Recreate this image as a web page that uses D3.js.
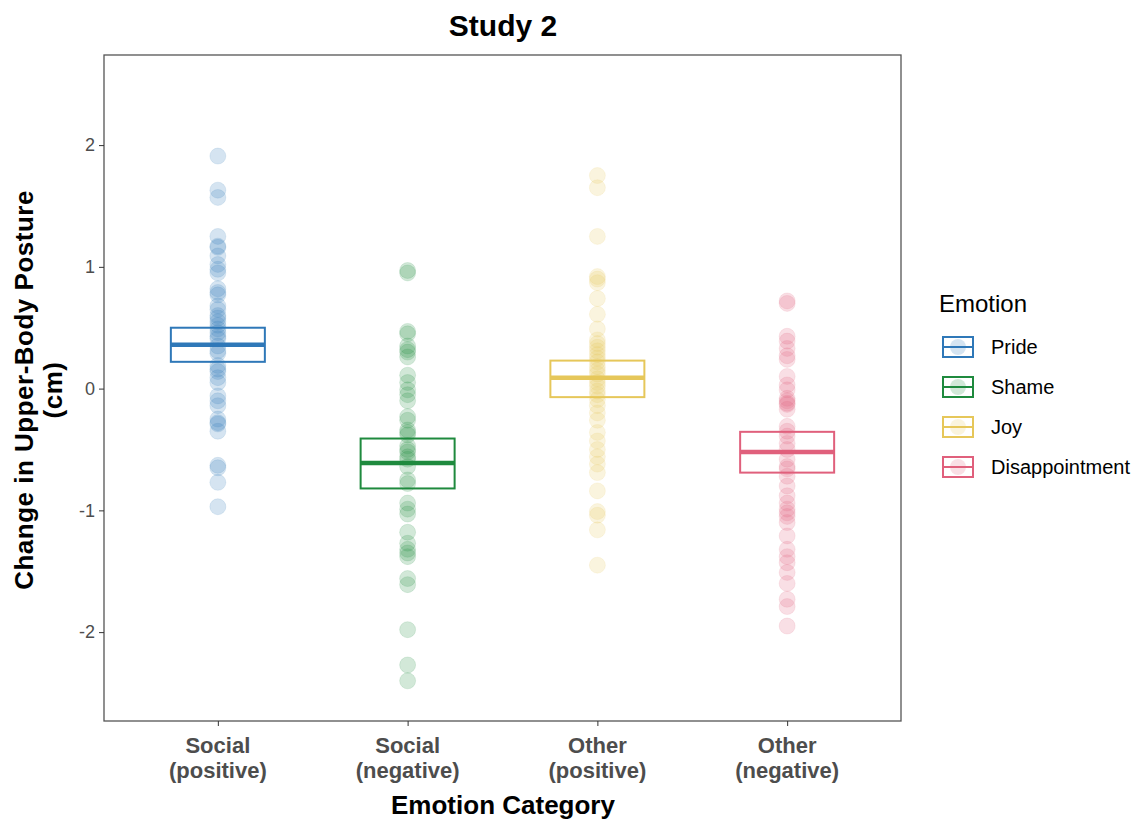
<!DOCTYPE html>
<html lang="en">
<head>
    <meta charset="UTF-8">
    <title>Study 2</title>
    <script src="https://d3js.org/d3.v7.min.js"></script>
    <style>
        body { margin: 0; background: white; font-family: "Liberation Sans", Arial, sans-serif; }
        svg { display: block; }
    </style>
</head>
<body>
<svg id="chart" width="1147" height="821"></svg>
<script>
    // categories and legend
    const categories = [["Social", "(positive)"], ["Social", "(negative)"], ["Other", "(positive)"], ["Other", "(negative)"]];
    const emotions = ["Pride", "Shame", "Joy", "Disappointment"];
    const colors = ["#2f78b8", "#1f8a3e", "#e6c75a", "#e0607c"];
    const yTicks = [-2, -1, 0, 1, 2];

    const pride = [1.91, 1.63, 1.57, 1.25, 1.17, 1.16, 1.09, 1.02, 0.98, 0.95, 0.82, 0.79, 0.77, 0.68, 0.65,
        0.6, 0.58, 0.55, 0.52, 0.49, 0.46, 0.43, 0.41, 0.35, 0.31, 0.29, 0.19, 0.16, 0.14, 0.09, 0.05,
        -0.06, -0.1, -0.14, -0.25, -0.28, -0.29, -0.35, -0.63, -0.65, -0.77, -0.97];
    const shame = [0.97, 0.95, 0.47, 0.45, 0.35, 0.32, 0.3, 0.26, 0.11, 0.05, -0.01, -0.05, -0.1, -0.23, -0.26,
        -0.34, -0.36, -0.38, -0.47, -0.5, -0.52, -0.56, -0.58, -0.64, -0.75, -0.78, -0.94, -0.99, -1.03,
        -1.18, -1.27, -1.32, -1.35, -1.38, -1.56, -1.61, -1.98, -2.27, -2.4];
    const joy = [1.75, 1.65, 1.25, 0.92, 0.9, 0.87, 0.74, 0.61, 0.49, 0.4, 0.37, 0.34, 0.31, 0.28, 0.25, 0.22,
        0.18, 0.15, 0.12, 0.08, 0.05, 0.02, -0.02, -0.05, -0.09, -0.14, -0.2, -0.26, -0.36, -0.43, -0.5,
        -0.56, -0.62, -0.69, -0.84, -1.01, -1.04, -1.16, -1.45];
    const disappointment = [0.72, 0.7, 0.43, 0.39, 0.33, 0.27, 0.24, 0.1, 0.03, -0.01, -0.08, -0.1, -0.12, -0.13,
        -0.17, -0.31, -0.35, -0.39, -0.45, -0.5, -0.58, -0.64, -0.66, -0.72, -0.8, -0.88, -0.94, -0.99,
        -1.02, -1.05, -1.1, -1.21, -1.32, -1.38, -1.43, -1.51, -1.6, -1.73, -1.79, -1.95];
    const points = [pride, shame, joy, disappointment];

    // crossbar summaries: lower, middle, upper
    const boxLow = [0.22, -0.82, -0.07, -0.69];
    const boxMid = [0.36, -0.61, 0.09, -0.52];
    const boxHigh = [0.5, -0.41, 0.23, -0.355];

    const svg = d3.select("#chart");
    const panel = { left: 104, right: 901, top: 55, bottom: 721 };

    // ggplot-style discrete axis: 0.6 padding at each end
    const x = d3.scaleLinear().domain([0.4, 4.6]).range([panel.left, panel.right]);
    const y = d3.scaleLinear().domain([-2.73, 2.74]).range([panel.bottom, panel.top]);
    const halfBox = 47;

    // points
    points.forEach((vals, i) => {
        svg.append("g").selectAll("circle")
            .data(vals)
            .enter().append("circle")
            .attr("cx", x(i + 1))
            .attr("cy", d => y(d))
            .attr("r", 8)
            .attr("fill", colors[i])
            .attr("fill-opacity", 0.2)
            .attr("stroke", colors[i])
            .attr("stroke-opacity", 0.12);
    });

    // crossbars
    emotions.forEach((e, i) => {
        const cx = x(i + 1);
        svg.append("rect")
            .attr("x", cx - halfBox)
            .attr("y", y(boxHigh[i]))
            .attr("width", halfBox * 2)
            .attr("height", y(boxLow[i]) - y(boxHigh[i]))
            .attr("fill", "none")
            .attr("stroke", colors[i])
            .attr("stroke-width", 2);
        svg.append("line")
            .attr("x1", cx - halfBox).attr("x2", cx + halfBox)
            .attr("y1", y(boxMid[i])).attr("y2", y(boxMid[i]))
            .attr("stroke", colors[i])
            .attr("stroke-width", 4.5);
    });

    // panel border
    svg.append("rect")
        .attr("x", panel.left).attr("y", panel.top)
        .attr("width", panel.right - panel.left)
        .attr("height", panel.bottom - panel.top)
        .attr("fill", "none")
        .attr("stroke", "#555")
        .attr("stroke-width", 1.3);

    // y axis (plain hyphen minus, like the original)
    const yAxis = svg.append("g")
        .attr("transform", `translate(${panel.left},0)`)
        .call(d3.axisLeft(y).tickValues(yTicks).tickSize(5).tickFormat(d => String(d)));
    yAxis.select(".domain").remove();
    yAxis.selectAll("line").attr("stroke", "#333");
    yAxis.selectAll("text")
        .attr("font-size", 18)
        .attr("font-family", "Liberation Sans, Arial, sans-serif")
        .attr("fill", "#4d4d4d")
        .attr("x", -9);

    // x axis
    const xAxis = svg.append("g")
        .attr("transform", `translate(0,${panel.bottom})`)
        .call(d3.axisBottom(x).tickValues([1, 2, 3, 4]).tickSize(5).tickFormat(""));
    xAxis.select(".domain").remove();
    xAxis.selectAll("line").attr("stroke", "#333");

    categories.forEach((c, i) => {
        const t = svg.append("text")
            .attr("x", x(i + 1))
            .attr("text-anchor", "middle")
            .attr("font-size", 22)
            .attr("font-weight", "bold")
            .attr("fill", "#4d4d4d");
        t.append("tspan").attr("x", x(i + 1)).attr("y", 753).text(c[0]);
        t.append("tspan").attr("x", x(i + 1)).attr("y", 778).text(c[1]);
    });

    // titles
    svg.append("text")
        .attr("x", 503).attr("y", 36)
        .attr("text-anchor", "middle")
        .attr("font-size", 30).attr("font-weight", "bold")
        .text("Study 2");

    svg.append("text")
        .attr("x", 503).attr("y", 814)
        .attr("text-anchor", "middle")
        .attr("font-size", 26).attr("font-weight", "bold")
        .text("Emotion Category");

    const yTitle = svg.append("text")
        .attr("transform", "translate(0,390) rotate(-90)")
        .attr("text-anchor", "middle")
        .attr("font-size", 26).attr("font-weight", "bold")
        .attr("letter-spacing", 0.5);
    yTitle.append("tspan").attr("x", 0).attr("y", 33).text("Change in Upper-Body Posture");
    yTitle.append("tspan").attr("x", 0).attr("y", 62).text("(cm)");

    // legend
    const legend = svg.append("g").attr("transform", "translate(938,0)");
    legend.append("text")
        .attr("x", 1).attr("y", 312)
        .attr("font-size", 24)
        .text("Emotion");

    emotions.forEach((e, i) => {
        const cy = 347 + i * 40;
        const g = legend.append("g");
        g.append("circle")
            .attr("cx", 20).attr("cy", cy).attr("r", 8)
            .attr("fill", colors[i]).attr("fill-opacity", 0.2);
        g.append("rect")
            .attr("x", 5).attr("y", cy - 10)
            .attr("width", 30).attr("height", 20)
            .attr("fill", "none")
            .attr("stroke", colors[i]).attr("stroke-width", 2);
        g.append("line")
            .attr("x1", 5).attr("x2", 35)
            .attr("y1", cy).attr("y2", cy)
            .attr("stroke", colors[i]).attr("stroke-width", 2);
        g.append("text")
            .attr("x", 53).attr("y", cy + 7)
            .attr("font-size", 20)
            .text(e);
    });
</script>
</body>
</html>
